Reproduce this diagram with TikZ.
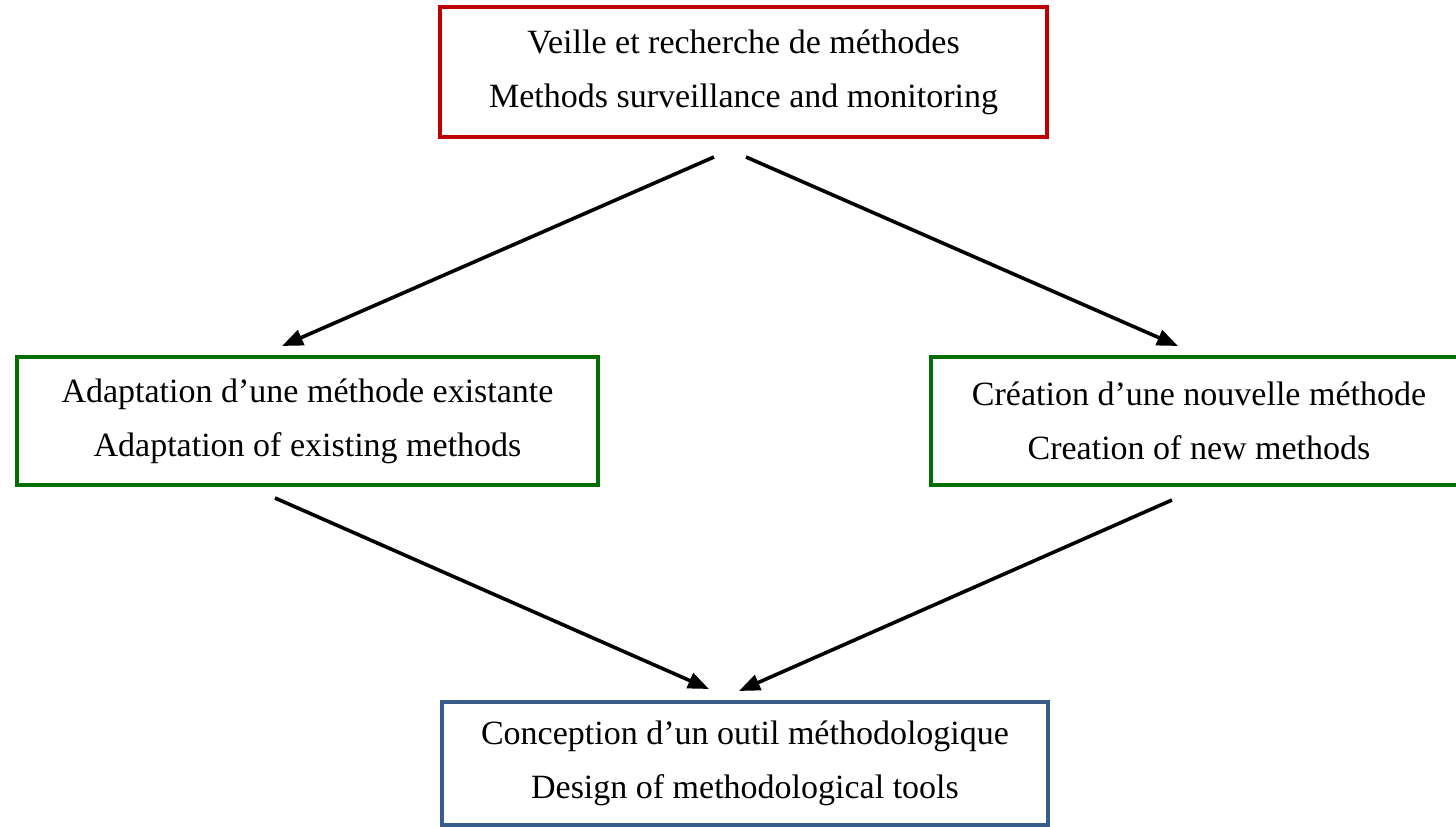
\documentclass[tikz,border=0pt]{standalone}
\usepackage{fontspec}
\setmainfont{Liberation Serif}
\usetikzlibrary{arrows.meta}
\definecolor{boxred}{RGB}{192,0,0}
\definecolor{boxgreen}{RGB}{0,110,0}
\definecolor{boxblue}{RGB}{56,93,138}
\begin{document}
\begin{tikzpicture}[x=1pt,y=-1pt,
  box/.style={draw,line width=4.5pt,fill=white,align=center,inner sep=0pt,
    font=\fontsize{34}{54}\selectfont},
  flow/.style={line width=3.6pt,-{Triangle[length=21pt,width=16pt]}}]
\useasboundingbox (0,0) rectangle (1456,827);
% boxes
\node[box,draw=boxred,minimum width=607pt,minimum height=130pt] (top) at (743.5,72)
  {Veille et recherche de méthodes\\Methods surveillance and monitoring};
\node[box,draw=boxgreen,minimum width=581pt,minimum height=128pt] (adapt) at (307.5,421)
  {Adaptation d’une méthode existante\\Adaptation of existing methods};
\node[box,draw=boxgreen,minimum width=536pt,minimum height=128pt] (create) at (1199,421)
  {Création d’une nouvelle méthode\\Creation of new methods};
\node[box,draw=boxblue,minimum width=606pt,minimum height=123pt] (design) at (745,763.5)
  {Conception d’un outil méthodologique\\Design of methodological tools};
% connector ends
\coordinate (topL) at (714,157);
\coordinate (topR) at (746,157);
\coordinate (adaptIn) at (282,346);
\coordinate (createIn) at (1178,346);
\coordinate (adaptOut) at (275,498);
\coordinate (createOut) at (1172,500);
\coordinate (designL) at (709,689);
\coordinate (designR) at (739,691);
% arrows
\draw[flow] (topL) -- (adaptIn);
\draw[flow] (topR) -- (createIn);
\draw[flow] (adaptOut) -- (designL);
\draw[flow] (createOut) -- (designR);
\end{tikzpicture}
\end{document}
